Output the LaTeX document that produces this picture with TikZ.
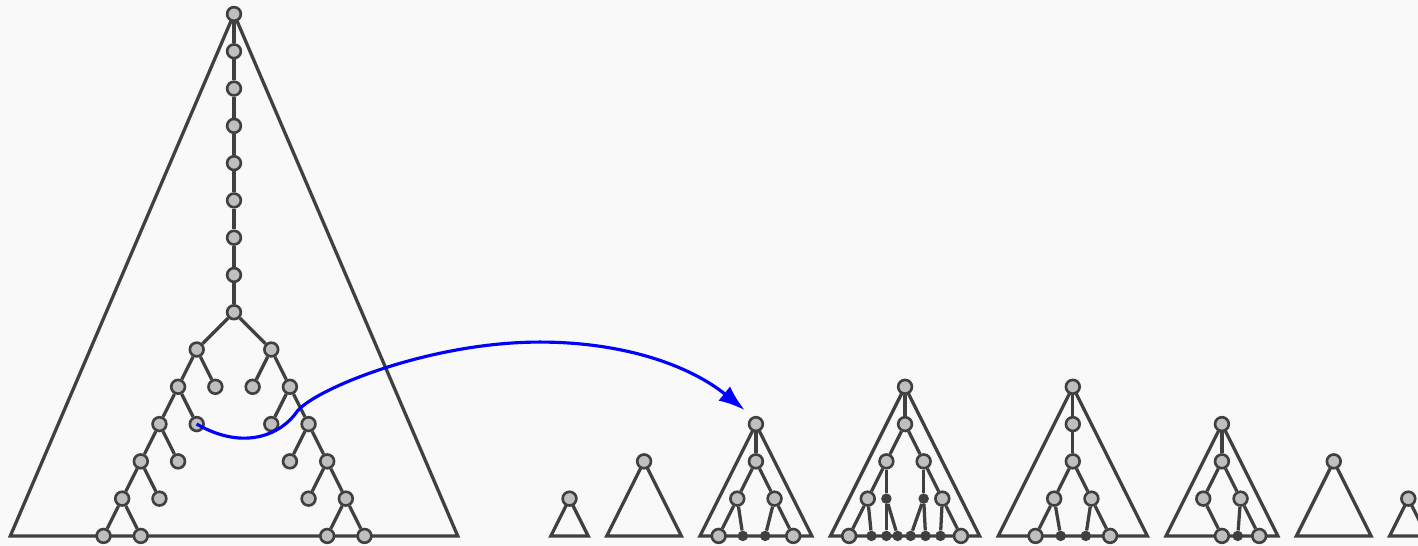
\documentclass[tikz,border=0pt]{standalone}
\usetikzlibrary{arrows.meta}
\definecolor{treegrey}{HTML}{404040}
\definecolor{nodefill}{HTML}{BFBFBF}
\definecolor{pagebg}{HTML}{F9F9F9}

\begin{document}
\begin{tikzpicture}[x=0.5cm, y=0.5cm,
  vert/.style={circle, draw=treegrey, fill=nodefill, line width=2pt, minimum size=10.5pt, inner sep=0pt},
  stub/.style={circle, fill=treegrey, minimum size=8pt, inner sep=0pt},
  link/.style={draw=treegrey, line width=2.5pt},
  tri/.style={draw=treegrey, line width=2.5pt},
  move/.style={draw=blue, line width=2.4pt, -{Latex[length=20pt,width=14pt]}}
]
  \clip (-12.554,-28.54) rectangle (63.52,0.751);
  \fill[pagebg] (-12.554,-28.54) rectangle (63.52,0.751);

  % outlines of the trees
  \draw[tri] (0,0) -- (-12,-28) -- (12,-28) -- cycle;
  \draw[tri] (18,-26) -- (17,-28) -- (19,-28) -- cycle;
  \draw[tri] (22,-24) -- (20,-28) -- (24,-28) -- cycle;
  \draw[tri] (28,-22) -- (25,-28) -- (31,-28) -- cycle;
  \draw[tri] (36,-20) -- (32,-28) -- (40,-28) -- cycle;
  \draw[tri] (45,-20) -- (41,-28) -- (49,-28) -- cycle;
  \draw[tri] (53,-22) -- (50,-28) -- (56,-28) -- cycle;
  \draw[tri] (59,-24) -- (57,-28) -- (61,-28) -- cycle;
  \draw[tri] (63,-26) -- (62,-28) -- (64,-28) -- cycle;

  % big tree
  \node[vert] (s0) at (0,0) {};
  \node[vert] (s1) at (0,-2) {};
  \node[vert] (s2) at (0,-4) {};
  \node[vert] (s3) at (0,-6) {};
  \node[vert] (s4) at (0,-8) {};
  \node[vert] (s5) at (0,-10) {};
  \node[vert] (s6) at (0,-12) {};
  \node[vert] (s7) at (0,-14) {};
  \node[vert] (s8) at (0,-16) {};
  \node[vert] (l1) at (-2,-18) {};
  \node[vert] (r1) at (2,-18) {};
  \node[vert] (l2) at (-3,-20) {};
  \node[vert] (la2) at (-1,-20) {};
  \node[vert] (r2) at (3,-20) {};
  \node[vert] (ra2) at (1,-20) {};
  \node[vert] (l3) at (-4,-22) {};
  \node[vert] (la3) at (-2,-22) {};
  \node[vert] (r3) at (4,-22) {};
  \node[vert] (ra3) at (2,-22) {};
  \node[vert] (l4) at (-5,-24) {};
  \node[vert] (la4) at (-3,-24) {};
  \node[vert] (r4) at (5,-24) {};
  \node[vert] (ra4) at (3,-24) {};
  \node[vert] (l5) at (-6,-26) {};
  \node[vert] (la5) at (-4,-26) {};
  \node[vert] (r5) at (6,-26) {};
  \node[vert] (ra5) at (4,-26) {};
  \node[vert] (l6) at (-7,-28) {};
  \node[vert] (la6) at (-5,-28) {};
  \node[vert] (r6) at (7,-28) {};
  \node[vert] (ra6) at (5,-28) {};

  \draw[link] (s0) -- (s1) -- (s2) -- (s3) -- (s4) -- (s5) -- (s6) -- (s7) -- (s8);
  \draw[link] (s8) -- (l1);
  \draw[link] (s8) -- (r1);
  \draw[link] (l1) -- (l2) -- (l3) -- (l4) -- (l5) -- (l6);
  \draw[link] (r1) -- (r2) -- (r3) -- (r4) -- (r5) -- (r6);
  \draw[link] (l1) -- (la2);
  \draw[link] (l2) -- (la3);
  \draw[link] (l3) -- (la4);
  \draw[link] (l4) -- (la5);
  \draw[link] (l5) -- (la6);
  \draw[link] (r1) -- (ra2);
  \draw[link] (r2) -- (ra3);
  \draw[link] (r3) -- (ra4);
  \draw[link] (r4) -- (ra5);
  \draw[link] (r5) -- (ra6);

  % small trees
  \node[vert] (a0) at (18,-26) {};
  \node[vert] (b0) at (22,-24) {};

  \node[vert] (c0) at (28,-22) {};
  \node[vert] (c1) at (28,-24) {};
  \node[vert] (c2) at (27,-26) {};
  \node[vert] (c3) at (29,-26) {};
  \node[vert] (c4) at (26,-28) {};
  \node[stub] (c5) at (27.3,-28) {};
  \node[stub] (c6) at (28.5,-28) {};
  \node[vert] (c7) at (30,-28) {};
  \draw[link] (c0) -- (c1);
  \draw[link] (c1) -- (c2);
  \draw[link] (c1) -- (c3);
  \draw[link] (c2) -- (c4);
  \draw[link] (c2) -- (c5);
  \draw[link] (c3) -- (c6);
  \draw[link] (c3) -- (c7);

  \node[vert] (d0) at (36,-20) {};
  \node[vert] (d1) at (36,-22) {};
  \node[vert] (d2) at (35,-24) {};
  \node[vert] (d3) at (37,-24) {};
  \node[vert] (d4) at (34,-26) {};
  \node[stub] (d5) at (35,-26) {};
  \node[stub] (d6) at (37,-26) {};
  \node[vert] (d7) at (38,-26) {};
  \node[vert] (d8) at (33,-28) {};
  \node[stub] (d9) at (34.2,-28) {};
  \node[stub] (d10) at (35,-28) {};
  \node[stub] (d11) at (35.6,-28) {};
  \node[stub] (d12) at (36.3,-28) {};
  \node[stub] (d13) at (37.1,-28) {};
  \node[stub] (d14) at (37.9,-28) {};
  \node[vert] (d15) at (39,-28) {};
  \draw[link] (d0) -- (d1);
  \draw[link] (d1) -- (d2);
  \draw[link] (d1) -- (d3);
  \draw[link] (d2) -- (d4);
  \draw[link] (d2) -- (d5);
  \draw[link] (d3) -- (d6);
  \draw[link] (d3) -- (d7);
  \draw[link] (d4) -- (d8);
  \draw[link] (d4) -- (d9);
  \draw[link] (d5) -- (d10);
  \draw[link] (d5) -- (d11);
  \draw[link] (d6) -- (d12);
  \draw[link] (d6) -- (d13);
  \draw[link] (d7) -- (d14);
  \draw[link] (d7) -- (d15);

  \node[vert] (e0) at (45,-20) {};
  \node[vert] (e1) at (45,-22) {};
  \node[vert] (e2) at (45,-24) {};
  \node[vert] (e3) at (44,-26) {};
  \node[vert] (e4) at (46,-26) {};
  \node[vert] (e5) at (43,-28) {};
  \node[stub] (e6) at (44.35,-28) {};
  \node[stub] (e7) at (45.7,-28) {};
  \node[vert] (e8) at (47,-28) {};
  \draw[link] (e0) -- (e1) -- (e2);
  \draw[link] (e2) -- (e3);
  \draw[link] (e2) -- (e4);
  \draw[link] (e3) -- (e5);
  \draw[link] (e3) -- (e6);
  \draw[link] (e4) -- (e7);
  \draw[link] (e4) -- (e8);

  \node[vert] (f0) at (53,-22) {};
  \node[vert] (f1) at (53,-24) {};
  \node[vert] (f2) at (52,-26) {};
  \node[vert] (f3) at (54,-26) {};
  \node[vert] (f4) at (53,-28) {};
  \node[stub] (f5) at (53.85,-28) {};
  \node[vert] (f6) at (55,-28) {};
  \draw[link] (f0) -- (f1);
  \draw[link] (f1) -- (f2);
  \draw[link] (f1) -- (f3);
  \draw[link] (f2) -- (f4);
  \draw[link] (f3) -- (f5);
  \draw[link] (f3) -- (f6);

  \node[vert] (g0) at (59,-24) {};
  \node[vert] (h0) at (63,-26) {};

  % the move
  \coordinate (tip) at (27.4,-21.25);
  \draw[move] (la3.center) .. controls (0.6,-23.5) and (2.6,-22.5) .. (3.4,-21.3)
    .. controls (4.4,-20.1) and (10.5,-17.6) .. (16.4,-17.6)
    .. controls (21,-17.6) and (24.5,-18.9) .. (tip);
\end{tikzpicture}
\end{document}
